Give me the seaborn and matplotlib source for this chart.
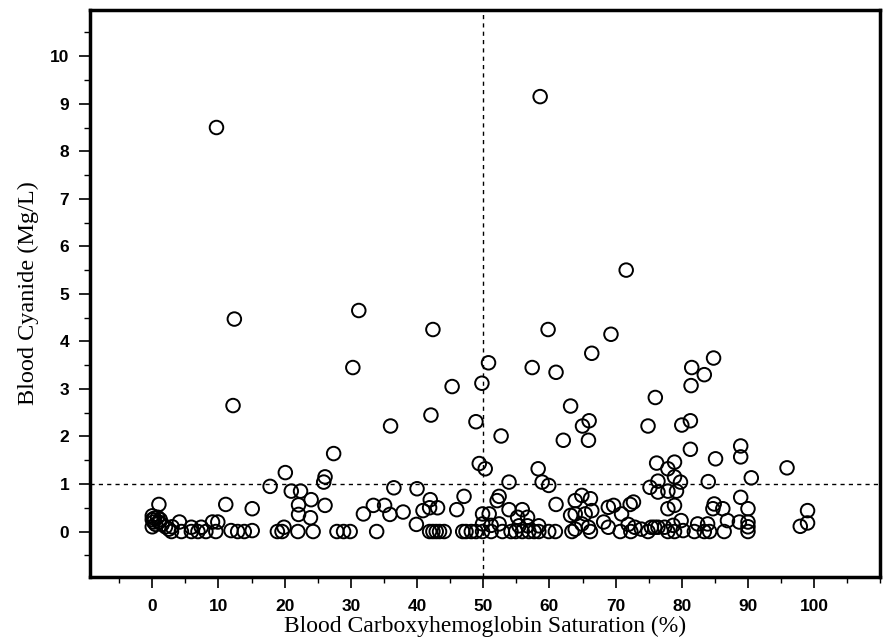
import matplotlib
matplotlib.use("Agg")
import matplotlib.pyplot as plt
import seaborn as sns
import pandas as pd
from matplotlib.ticker import MultipleLocator

# Blood carboxyhemoglobin saturation (%) and blood cyanide (mg/L)
cohb_high = [9.7, 58.6, 71.6, 31.2, 12.4, 42.4, 59.8, 69.3, 66.4, 84.8, 50.8, 30.3,
             57.4, 81.5, 61.0, 83.4, 49.8, 45.3, 81.4, 76.0, 12.2, 63.2, 42.1, 48.9,
             66.0, 81.3, 36.0, 65.0, 74.9, 80.0, 52.7, 62.1, 65.9, 88.9, 81.3, 27.4,
             85.1, 88.9, 49.4, 76.2, 78.9, 50.3, 58.3, 77.9, 95.9, 20.1, 26.1, 78.9,
             90.5, 25.9, 53.9, 58.9, 76.4, 79.8, 84.0, 59.9, 17.8, 75.2, 36.5, 40.0]
cn_high = [8.5, 9.15, 5.5, 4.65, 4.47, 4.25, 4.25, 4.15, 3.75, 3.65, 3.55, 3.45,
           3.45, 3.45, 3.35, 3.3, 3.12, 3.05, 3.07, 2.82, 2.65, 2.64, 2.45, 2.31,
           2.33, 2.33, 2.22, 2.22, 2.22, 2.24, 2.01, 1.92, 1.92, 1.8, 1.73, 1.64,
           1.53, 1.57, 1.43, 1.44, 1.46, 1.32, 1.32, 1.32, 1.34, 1.24, 1.15, 1.15,
           1.13, 1.04, 1.04, 1.04, 1.06, 1.04, 1.05, 0.97, 0.95, 0.93, 0.92, 0.90]

cohb_mid = [21.0, 22.4, 76.4, 77.9, 79.2, 47.1, 52.4, 88.9, 24.0, 42.0, 52.1, 66.2,
            64.9, 63.9, 72.7, 1.0, 11.1, 22.1, 26.1, 33.4, 35.1, 61.0, 72.2, 69.7,
            78.9, 84.9, 15.1, 41.9, 43.1, 68.9, 77.9, 84.7, 86.2, 90.0, 99.0, 40.9,
            46.0, 53.9, 55.9, 66.4, 37.9, 22.1, 31.9, 35.9, 49.9, 50.9, 65.4, 63.9,
            70.9, 63.2, 23.9, 55.2, 56.7, 0.0, 0.3, 0.8]
cn_mid = [0.85, 0.85, 0.83, 0.85, 0.85, 0.74, 0.74, 0.72, 0.67, 0.67, 0.65, 0.69,
          0.76, 0.65, 0.62, 0.57, 0.57, 0.56, 0.55, 0.55, 0.55, 0.57, 0.57, 0.55,
          0.55, 0.58, 0.48, 0.50, 0.50, 0.51, 0.48, 0.48, 0.48, 0.48, 0.44, 0.44,
          0.46, 0.46, 0.46, 0.44, 0.41, 0.36, 0.37, 0.36, 0.37, 0.37, 0.37, 0.37,
          0.37, 0.34, 0.29, 0.30, 0.30, 0.33, 0.28, 0.30]

cohb_low = [4.1, 9.1, 9.9, 68.2, 79.9, 86.9, 88.7, 90.0, 99.0, 39.9, 49.9, 51.2,
            52.4, 55.4, 56.7, 58.4, 64.9, 71.9, 82.4, 83.9, 78.7, 97.9, 90.0, 5.9,
            7.4, 19.9, 65.9, 68.9, 72.9, 75.9, 75.4, 76.4, 77.4, 73.9, 63.9,
            0.0, 0.2, 0.5, 1.0, 1.5, 2.0, 0.0, 1.2, 2.5, 3.0]
cn_low = [0.20, 0.20, 0.20, 0.20, 0.23, 0.23, 0.20, 0.20, 0.18, 0.15, 0.16, 0.13,
          0.16, 0.12, 0.12, 0.12, 0.16, 0.15, 0.16, 0.16, 0.13, 0.11, 0.10, 0.09,
          0.09, 0.09, 0.09, 0.09, 0.09, 0.09, 0.09, 0.09, 0.09, 0.05, 0.05,
          0.25, 0.20, 0.15, 0.20, 0.15, 0.10, 0.10, 0.25, 0.05, 0.10]

cohb_zero = [2.9, 4.4, 5.9, 6.9, 8.1, 9.6, 11.9, 12.9, 13.9, 15.1, 18.9, 19.6,
             22.0, 24.3, 27.9, 28.9, 29.9, 33.9, 41.9, 42.4, 42.9, 43.4, 44.1, 46.9,
             47.4, 48.2, 48.9, 49.9, 51.2, 52.9, 54.2, 54.9, 55.9, 56.9, 57.7, 58.4,
             59.9, 60.9, 63.4, 66.2, 70.7, 72.3, 74.9, 77.9, 78.9, 80.2, 81.9, 83.4,
             84.2, 86.4, 90.0]
cn_zero = [0.0, 0.0, 0.0, 0.0, 0.0, 0.0, 0.02, 0.0, 0.0, 0.02, 0.0, 0.0,
           0.0, 0.0, 0.0, 0.0, 0.0, 0.0, 0.0, 0.0, 0.0, 0.0, 0.0, 0.0,
           0.0, 0.0, 0.0, 0.0, 0.0, 0.0, 0.0, 0.0, 0.0, 0.0, 0.0, 0.0,
           0.0, 0.0, 0.0, 0.0, 0.0, 0.0, 0.0, 0.0, 0.0, 0.02, 0.0, 0.0,
           0.0, 0.0, 0.0]

x_ticks = [0, 10, 20, 30, 40, 50, 60, 70, 80, 90, 100]
y_ticks = [0, 1, 2, 3, 4, 5, 6, 7, 8, 9, 10]
cohb_cut = 50
cn_cut = 1

df = pd.DataFrame({
    "cohb": cohb_high + cohb_mid + cohb_low + cohb_zero,
    "cn": cn_high + cn_mid + cn_low + cn_zero,
})

sns.set_theme(style="ticks")
fig = plt.figure(figsize=(8.83, 6.42), dpi=100)
ax = fig.add_axes([0.102, 0.101, 0.895, 0.884])

sns.scatterplot(data=df, x="cohb", y="cn", ax=ax, marker="o", s=95,
                facecolor="none", edgecolor="black", linewidth=1.4, legend=False)

ax.axvline(cohb_cut, color="black", linestyle=(0, (3, 3)), linewidth=1.0, zorder=0)
ax.axhline(cn_cut, color="black", linestyle=(0, (3, 3)), linewidth=1.0, zorder=0)

ax.set_xlim(-9.4, 110)
ax.set_ylim(-0.96, 10.98)
ax.set_xticks(x_ticks)
ax.set_yticks(y_ticks)
ax.set_xticklabels([str(t) for t in x_ticks], fontfamily="Liberation Sans",
                   fontweight="bold", fontsize=12.5, color="black")
ax.set_yticklabels([str(t) for t in y_ticks], fontfamily="Liberation Sans",
                   fontweight="bold", fontsize=12.5, color="black")
ax.xaxis.set_minor_locator(MultipleLocator(5))
ax.yaxis.set_minor_locator(MultipleLocator(0.5))
ax.tick_params(axis="y", which="major", direction="out", length=8, width=1.2,
               color="black", pad=7)
ax.tick_params(axis="x", which="major", direction="out", length=8, width=1.2,
               color="black", pad=8)
ax.tick_params(which="minor", direction="out", length=4, width=1.0, color="black")

for sp in ax.spines.values():
    sp.set_visible(True)
    sp.set_linewidth(2.5)
    sp.set_color("black")

ax.set_xlabel("Blood Carboxyhemoglobin Saturation (%)", fontfamily="Liberation Serif",
              fontsize=17, labelpad=1, color="black")
ax.set_ylabel("Blood Cyanide (Mg/L)", fontfamily="Liberation Serif",
              fontsize=17.5, labelpad=8, color="black")

fig.savefig("out.png", dpi=100, facecolor="white")
